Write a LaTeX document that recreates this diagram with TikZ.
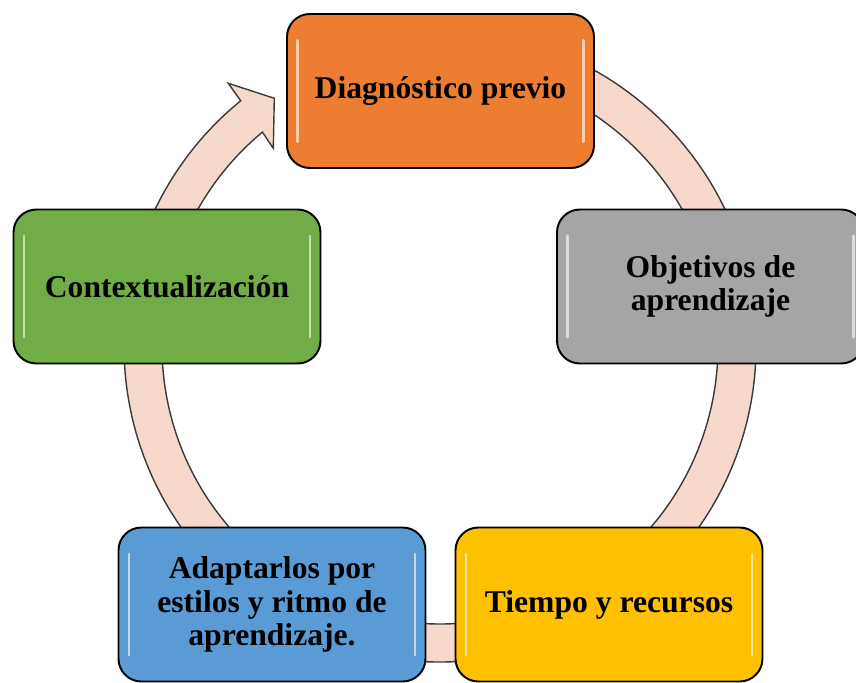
\documentclass[tikz,border=0pt]{standalone}
\usepackage{fontspec}
\setmainfont{Liberation Serif}
\usepackage{tikz}
\usetikzlibrary{calc,positioning,shapes}
\definecolor{naranja}{HTML}{ED7D31}
\definecolor{gris}{HTML}{A5A5A5}
\definecolor{amarillo}{HTML}{FFC000}
\definecolor{azul}{HTML}{5B9BD5}
\definecolor{verde}{HTML}{70AD47}
\definecolor{rosa}{HTML}{F7D8CD}
\definecolor{borde}{HTML}{3A3A3A}
\tikzstyle{caja}=[
	rectangle,
	rounded corners=13,
	draw=black,
	line width=1.1pt,
	minimum width=6.14cm,
	minimum height=3.08cm,
	align=center,
	font=\bfseries\fontsize{18}{19}\selectfont,
	path picture={
		\draw[white,opacity=.6,line width=1.6pt,line cap=round]
			([xshift=6pt,yshift=-15pt]path picture bounding box.north west) --
			([xshift=6pt,yshift=15pt]path picture bounding box.south west);
		\draw[white,opacity=.6,line width=1.6pt,line cap=round]
			([xshift=-6pt,yshift=-15pt]path picture bounding box.north east) --
			([xshift=-6pt,yshift=15pt]path picture bounding box.south east);
	}]
\tikzstyle{anillo}=[
	draw=borde,
	fill=rosa,
	line width=.8pt,
	line join=miter]

\begin{document}
\begin{tikzpicture}
	\useasboundingbox (0,0) rectangle (17.12,13.64);
	\coordinate (centro) at (8.80,6.72);
	% anillo con flecha
	\draw[anillo] ($(centro)+(95:6.32cm)$)
		arc[start angle=95,end angle=-230.9,radius=6.32cm]
		-- ($(centro)+(-4.234,5.254)$)
		-- ($(centro)+(-3.314,4.954)$)
		-- ($(centro)+(-3.334,3.954)$)
		-- ($(centro)+(-230.3:5.56cm)$)
		arc[start angle=-230.3,end angle=95,radius=5.56cm]
		-- cycle;
	% cajas
	\node[caja,fill=naranja]	(diag)		at (8.81,11.82)	{Diagnóstico previo};
	\node[caja,fill=gris]		(objetivos)	at (14.21,7.91)	{Objetivos de\\aprendizaje};
	\node[caja,fill=amarillo]	(tiempo)	at (12.18,1.55)	{Tiempo y recursos};
	\node[caja,fill=azul]		(adaptar)	at (5.44,1.55)	{Adaptarlos por\\estilos y ritmo de\\aprendizaje.};
	\node[caja,fill=verde]		(contexto)	at (3.34,7.91)	{Contextualización};
\end{tikzpicture}
\end{document}
